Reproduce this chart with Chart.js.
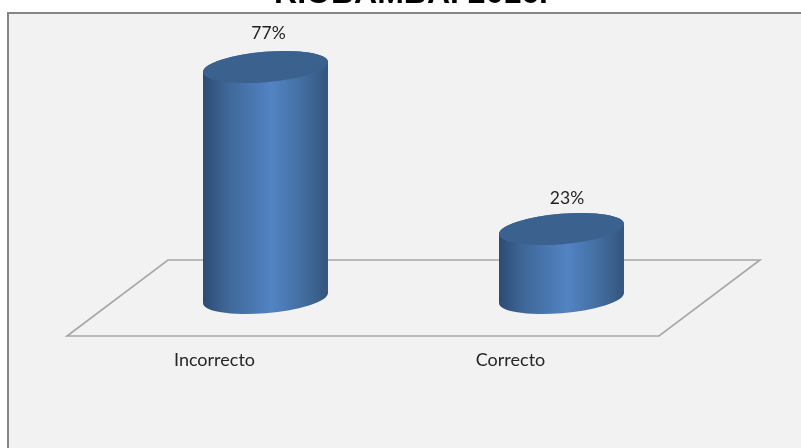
<!DOCTYPE html>
<html>
<head>
<meta charset="utf-8">
<style>
  body { margin: 0; background: #fff; overflow: hidden; }
  canvas { display: block; }
</style>
<script src="https://cdn.jsdelivr.net/npm/chart.js@4"></script>
</head>
<body>
<canvas id="chart" width="801" height="448"></canvas>
<script>
const categories = ['Incorrecto', 'Correcto'];
const percentages = [77, 23];
const titleText = 'RIOBAMBA. 2016.';

// floor depth around the zero line
const floorDx = 50.5;
const floorDy = 38;

// frame + grey panel behind everything
const framePlugin = {
    id: 'frame',
    beforeDraw(chart) {
        const ctx = chart.ctx;
        ctx.save();
        ctx.fillStyle = '#ffffff';
        ctx.fillRect(0, 0, chart.width, chart.height);
        ctx.fillStyle = '#f2f2f2';
        ctx.strokeStyle = '#868686';
        ctx.lineWidth = 2;
        ctx.fillRect(8, 13, chart.width, chart.height);
        ctx.strokeRect(8, 13, chart.width, chart.height);
        ctx.restore();
    }
};

// the 3D floor
const floorPlugin = {
    id: 'floor',
    beforeDatasetsDraw(chart) {
        const ctx = chart.ctx;
        const area = chart.chartArea;
        const base = chart.scales.y.getPixelForValue(0);
        ctx.save();
        ctx.strokeStyle = '#a6a6a6';
        ctx.lineWidth = 1.6;
        ctx.lineJoin = 'miter';
        ctx.beginPath();
        ctx.moveTo(area.left - floorDx, base + floorDy);
        ctx.lineTo(area.right - floorDx, base + floorDy);
        ctx.lineTo(area.right + floorDx, base - floorDy);
        ctx.lineTo(area.left + floorDx, base - floorDy);
        ctx.closePath();
        ctx.stroke();
        ctx.restore();
    }
};

// bars are drawn as tilted cylinders
const cylinderPlugin = {
    id: 'cylinder',
    beforeDatasetDraw(chart, args) {
        const ctx = chart.ctx;
        const tilt = -0.085;
        const ry = 15.2;
        // value labels sit a little differently over each bar
        const labelDx = [3, 5.5];
        const labelDy = [-34, -31];
        args.meta.data.forEach((bar, i) => {
            const rx = bar.width / 2 + 0.2;
            const t0 = Math.atan2(-ry * Math.sin(tilt), rx * Math.cos(tilt));
            const left = bar.x - bar.width / 2;
            const right = bar.x + bar.width / 2;

            const grad = ctx.createLinearGradient(left, 0, right, 0);
            grad.addColorStop(0, '#2d4b72');
            grad.addColorStop(0.2, '#3f6899');
            grad.addColorStop(0.55, '#5283c3');
            grad.addColorStop(0.8, '#426d9f');
            grad.addColorStop(1, '#34557e');

            ctx.save();
            ctx.fillStyle = grad;
            ctx.beginPath();
            ctx.ellipse(bar.x, bar.base, rx, ry, tilt, t0, t0 + Math.PI);
            ctx.ellipse(bar.x, bar.y, rx, ry, tilt, t0 + Math.PI, t0 + 2 * Math.PI);
            ctx.closePath();
            ctx.fill();

            ctx.fillStyle = '#3b618f';
            ctx.beginPath();
            ctx.ellipse(bar.x, bar.y, rx, ry, tilt, 0, 2 * Math.PI);
            ctx.fill();

            ctx.fillStyle = '#1f1f1f';
            ctx.font = '17.5px Lato';
            ctx.textAlign = 'center';
            ctx.textBaseline = 'middle';
            ctx.fillText(percentages[i] + '%', bar.x + labelDx[i], bar.y + labelDy[i]);
            ctx.restore();
        });
        return false;
    }
};

new Chart(document.getElementById('chart'), {
    type: 'bar',
    data: {
        labels: categories,
        datasets: [{
            data: percentages,
            backgroundColor: '#4f81bd',
            barThickness: 125
        }]
    },
    options: {
        responsive: false,
        animation: false,
        layout: {
            padding: { left: 112.5, right: 91.5, top: -25, bottom: 0 }
        },
        plugins: {
            legend: { display: false },
            tooltip: { enabled: false },
            title: {
                display: true,
                text: titleText,
                color: '#000000',
                font: { family: 'Liberation Sans', size: 32, weight: 'bold', lineHeight: 1.2 },
                padding: { top: 0, bottom: 44.6 }
            }
        },
        scales: {
            y: {
                min: 0,
                max: 80,
                grid: { display: false },
                border: { display: false },
                ticks: { display: false },
                afterFit(scale) { scale.width = 5; }
            },
            x: {
                grid: { display: false },
                border: { display: false },
                afterFit(scale) { scale.height = 150; },
                ticks: {
                    color: '#262626',
                    font: { family: 'Lato', size: 18 },
                    padding: 43,
                    labelOffset: -51,
                    maxRotation: 0
                }
            }
        }
    },
    plugins: [framePlugin, floorPlugin, cylinderPlugin]
});
</script>
</body>
</html>
